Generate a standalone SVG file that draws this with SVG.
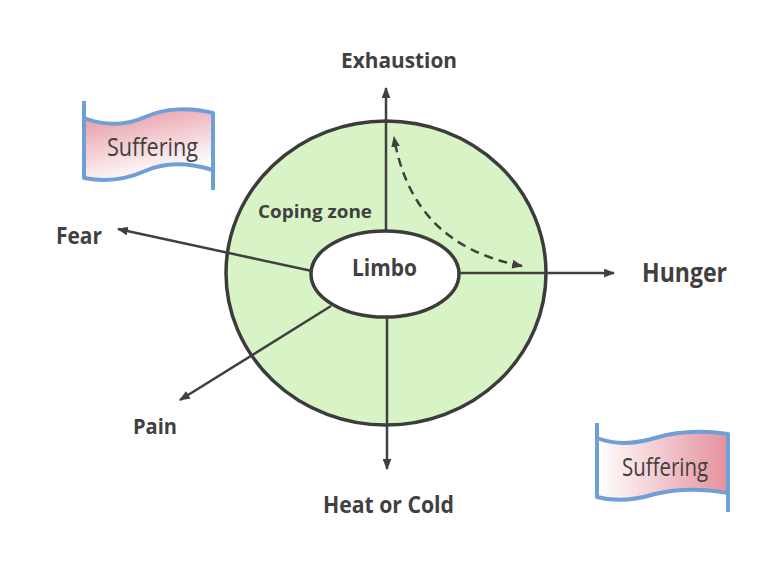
<svg xmlns="http://www.w3.org/2000/svg" width="768" height="576" viewBox="0 0 768 576">
<style>
.lbl{font-family:"Open Sans",Lato,"Liberation Sans",sans-serif;font-weight:bold;fill:#404040}
.flagtxt{font-family:"Open Sans",Lato,"Liberation Sans",sans-serif;font-weight:normal;fill:#404040}
.arr{stroke:#404040;stroke-width:2.5;fill:none}
.flag{stroke:#6f9fd6;stroke-width:4;stroke-linejoin:round}
</style>
<defs>
<marker id="ah" viewBox="0 0 10 8" refX="9" refY="4" markerWidth="11" markerHeight="9" markerUnits="userSpaceOnUse" orient="auto">
<path d="M0,0 L10,4 L0,8 Z" fill="#404040"/>
</marker>
<marker id="ahs" viewBox="0 0 10 8" refX="1" refY="4" markerWidth="11" markerHeight="9" markerUnits="userSpaceOnUse" orient="auto">
<path d="M10,0 L0,4 L10,8 Z" fill="#404040"/>
</marker>
<linearGradient id="g1" x1="0" y1="0" x2="0.4" y2="1">
<stop offset="0" stop-color="#e5909c"/>
<stop offset="1" stop-color="#ffffff"/>
</linearGradient>
<linearGradient id="g2" x1="0" y1="0" x2="1" y2="0">
<stop offset="0" stop-color="#ffffff"/>
<stop offset="1" stop-color="#e5909c"/>
</linearGradient>
</defs>
<rect width="768" height="576" fill="#ffffff"/>

<g id="coping-zone">
<ellipse cx="386" cy="273" rx="160" ry="152" fill="#d8f4c6" stroke="#3c3c3c" stroke-width="3.5"/>
<text class="lbl" x="258" y="218" font-size="18" textLength="114" lengthAdjust="spacingAndGlyphs">Coping zone</text>
</g>

<g id="connectors">
<line class="arr" x1="386" y1="230" x2="386" y2="88" marker-end="url(#ah)"/>
<line class="arr" x1="387" y1="318" x2="387" y2="469" marker-end="url(#ah)"/>
<line class="arr" x1="459" y1="273" x2="614" y2="273" marker-end="url(#ah)"/>
<line class="arr" x1="312" y1="271" x2="118" y2="229" marker-end="url(#ah)"/>
<line class="arr" x1="331" y1="306" x2="180" y2="400" marker-end="url(#ah)"/>
<path class="arr" d="M522,266 Q412,245 394,137" stroke-dasharray="9,6" marker-start="url(#ahs)" marker-end="url(#ah)"/>
</g>

<g id="limbo">
<ellipse cx="385" cy="274" rx="74" ry="43" fill="#ffffff" stroke="#3c3c3c" stroke-width="3.5"/>
<text class="lbl" x="352" y="276" font-size="23" textLength="65" lengthAdjust="spacingAndGlyphs">Limbo</text>
</g>

<g id="exhaustion"><text class="lbl" x="341" y="68" font-size="22" textLength="116" lengthAdjust="spacingAndGlyphs">Exhaustion</text></g>
<g id="heat-or-cold"><text class="lbl" x="323" y="513" font-size="23" textLength="131" lengthAdjust="spacingAndGlyphs">Heat or Cold</text></g>
<g id="pain"><text class="lbl" x="133" y="434" font-size="21" textLength="44" lengthAdjust="spacingAndGlyphs">Pain</text></g>
<g id="fear"><text class="lbl" x="56" y="244" font-size="23" textLength="46" lengthAdjust="spacingAndGlyphs">Fear</text></g>
<g id="hunger"><text class="lbl" x="642" y="282" font-size="27" textLength="85" lengthAdjust="spacingAndGlyphs">Hunger</text></g>

<g id="suffering-1">
<path d="M84,118 C105,126 125,126 145,117 C165,108 190,107 213,113 L213,170 C190,163 165,162 145,171 C125,180 105,182 84,178 Z" fill="url(#g1)"/>
<path class="flag" fill="none" d="M84,101 L84,178 C105,182 125,180 145,171 C165,162 190,163 213,170"/>
<path class="flag" fill="none" d="M84,118 C105,126 125,126 145,117 C165,108 190,107 213,113 L213,190"/>
<text class="flagtxt" x="107" y="156" font-size="25" textLength="91" lengthAdjust="spacingAndGlyphs">Suffering</text>
</g>

<g id="suffering-2">
<path d="M597,438 C615,445 635,444 655,438 C675,432 700,430 728,434 L728,493 C700,488 675,489 655,494 C635,500 615,502 597,497 Z" fill="url(#g2)"/>
<path class="flag" fill="none" d="M597,423 L597,497 C615,502 635,500 655,494 C675,489 700,488 728,493"/>
<path class="flag" fill="none" d="M597,438 C615,445 635,444 655,438 C675,432 700,430 728,434 L728,512"/>
<text class="flagtxt" x="622" y="476" font-size="25" textLength="86" lengthAdjust="spacingAndGlyphs">Suffering</text>
</g>
</svg>
